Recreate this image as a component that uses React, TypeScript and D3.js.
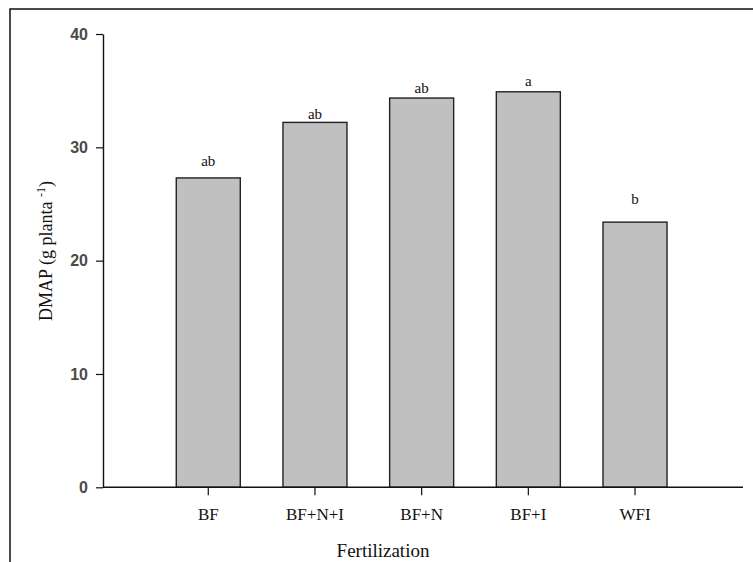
// App.tsx
import React, { useEffect, useRef } from 'react';
import * as d3 from 'd3';

const categories = ['BF', 'BF+N+I', 'BF+N', 'BF+I', 'WFI'];
const dmapValues = [27.3, 32.2, 34.35, 34.9, 23.4];
const letters = ['ab', 'ab', 'ab', 'a', 'b'];
// height (in g planta-1) where each letter sits
const letterLevels = [28.8, 33.0, 35.3, 35.9, 25.5];
const yTicks = [0, 10, 20, 30, 40];

const App = () => {
  const chartRef = useRef<SVGSVGElement>(null);

  useEffect(() => {
    const svg = d3.select(chartRef.current);
    svg.selectAll('*').remove();

    const axisX0 = 103;
    const axisX1 = 743;
    const serif = '"Liberation Serif", "Times New Roman", serif';

    // outer frame (only top and left visible)
    svg.append('rect')
      .attr('x', 10)
      .attr('y', 9)
      .attr('width', 800)
      .attr('height', 600)
      .attr('fill', 'none')
      .attr('stroke', '#111')
      .attr('stroke-width', 1.5);

    const xScale = d3.scaleBand()
      .domain(categories)
      .range([133.6, 709.7])
      .paddingInner(0.4)
      .paddingOuter(0.4);

    const yScale = d3.scaleLinear()
      .domain([0, 40])
      .range([487.3, 34]);

    // bars
    svg.append('g')
      .selectAll('rect')
      .data(categories)
      .join('rect')
      .attr('x', d => xScale(d)!)
      .attr('y', (d, i) => yScale(dmapValues[i]))
      .attr('width', xScale.bandwidth())
      .attr('height', (d, i) => yScale(0) - yScale(dmapValues[i]))
      .attr('fill', '#c0c0c0')
      .attr('stroke', '#222')
      .attr('stroke-width', 1.4);

    // significance letters
    svg.append('g')
      .selectAll('text')
      .data(categories)
      .join('text')
      .attr('x', d => xScale(d)! + xScale.bandwidth() / 2)
      .attr('y', (d, i) => yScale(letterLevels[i]))
      .attr('dy', '0.35em')
      .attr('text-anchor', 'middle')
      .style('font-family', serif)
      .attr('font-size', 15)
      .attr('fill', '#111')
      .text((d, i) => letters[i]);

    // y axis
    const yAxis = svg.append('g')
      .attr('transform', `translate(${axisX0},0)`)
      .call(d3.axisLeft(yScale).tickValues(yTicks).tickSize(7).tickPadding(8).tickSizeOuter(0));
    yAxis.select('.domain').attr('stroke', '#111').attr('stroke-width', 1.4);
    yAxis.selectAll('.tick line').attr('stroke', '#111').attr('stroke-width', 1.2);
    yAxis.selectAll('.tick text')
      .style('font-family', '"Liberation Sans", Arial, sans-serif')
      .attr('font-size', 16)
      .attr('font-weight', 'bold')
      .attr('fill', '#4a4a4a');

    // x axis
    const xAxis = svg.append('g')
      .attr('transform', `translate(0,${yScale(0)})`)
      .call(d3.axisBottom(xScale).tickSize(8).tickPadding(13).tickSizeOuter(0));
    xAxis.select('.domain')
      .attr('d', `M${axisX0},0H${axisX1}`)
      .attr('stroke', '#111')
      .attr('stroke-width', 1.4);
    xAxis.selectAll('.tick line').attr('stroke', '#111').attr('stroke-width', 1.2);
    xAxis.selectAll('.tick text')
      .style('font-family', serif)
      .attr('font-size', 17)
      .attr('fill', '#111');

    // axis titles
    svg.append('text')
      .attr('x', 383)
      .attr('y', 557)
      .attr('text-anchor', 'middle')
      .style('font-family', serif)
      .attr('font-size', 19)
      .attr('fill', '#111')
      .text('Fertilization');

    const yTitle = svg.append('text')
      .attr('transform', 'translate(52,251) rotate(-90)')
      .attr('text-anchor', 'middle')
      .style('font-family', serif)
      .attr('font-size', 18)
      .attr('fill', '#111');
    yTitle.append('tspan').text('DMAP (g planta ');
    yTitle.append('tspan').attr('font-size', 12).attr('dy', -7).text('-1');
    yTitle.append('tspan').attr('dy', 7).text(')');
  }, []);

  return (
    <svg
      ref={chartRef}
      width={753}
      height={562}
      style={{ position: 'absolute', left: 0, top: 0, background: '#fff' }}
    />
  );
};

export default App;
